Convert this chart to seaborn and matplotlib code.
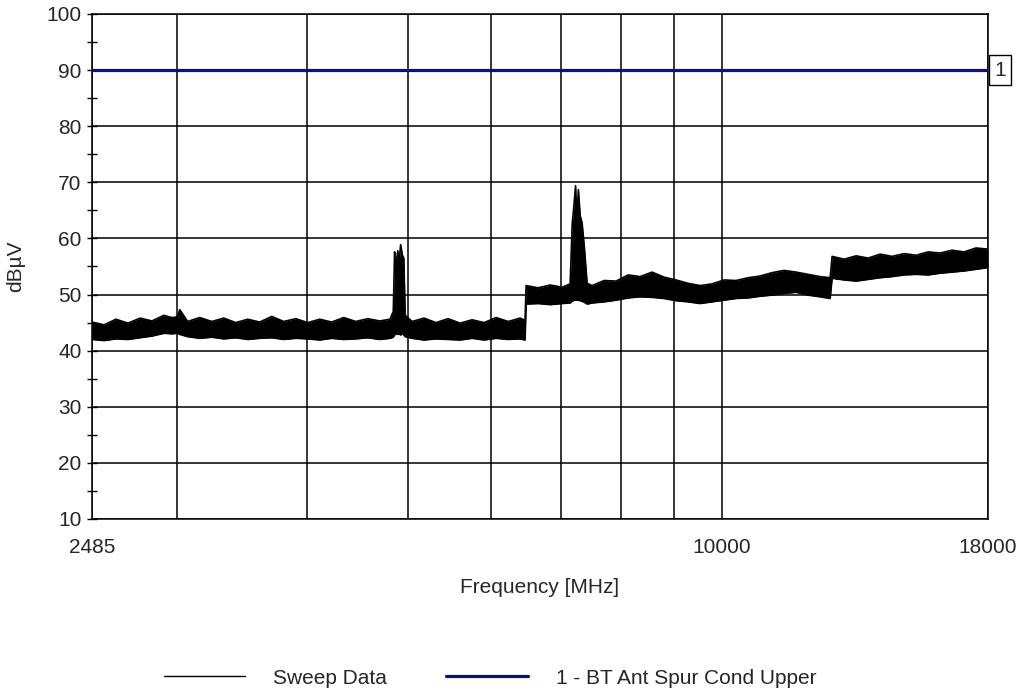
import matplotlib
matplotlib.use("Agg")
import matplotlib.pyplot as plt
from matplotlib.ticker import FixedLocator, NullFormatter, MultipleLocator
from matplotlib.lines import Line2D
import seaborn as sns
import pandas as pd

# ---- data ----
sweep_freq = [2485, 2552, 2620, 2691, 2763, 2837, 2913, 2965, 3000, 3017, 3070, 3153,
              3238, 3325, 3414, 3506, 3600, 3697, 3796, 3898, 4003, 4110, 4221, 4334,
              4451, 4570, 4693, 4801,
              4836, 4850, 4865, 4885, 4900, 4915, 4935, 4950, 4965,
              5041, 5176, 5316, 5459, 5605, 5756, 5911, 6070, 6233, 6400, 6471,
              6486, 6660, 6840, 7023, 7149,
              7181, 7210, 7235, 7255, 7280, 7310, 7340, 7380, 7422,
              7504, 7706, 7913, 8126, 8344, 8568, 8798, 9035, 9277, 9527, 9782,
              10045, 10315, 10592, 10877, 11169, 11469, 11777, 12093, 12418, 12699,
              12755, 13097, 13449, 13810, 14181, 14562, 14953, 15355, 15767, 16191,
              16626, 17072, 17531, 18000]
sweep_low = [42.0, 41.8, 42.1, 42.0, 42.3, 42.6, 43.1, 43.0, 43.1, 42.9, 42.5, 42.2,
             42.4, 42.1, 42.3, 42.0, 42.2, 42.3, 42.0, 42.2, 42.1, 41.9, 42.2, 42.0,
             42.1, 42.3, 42.0, 42.2,
             42.4, 42.8, 43.0, 42.9, 43.0, 42.8, 43.0, 42.8, 42.5,
             42.2, 41.9, 42.1, 42.0, 41.9, 42.2, 41.9, 42.2, 42.0, 42.1, 41.9,
             48.3, 48.4, 48.2, 48.4, 48.5,
             48.8, 49.0, 49.0, 49.0, 49.0, 48.9, 48.8, 48.6, 48.3,
             48.5, 48.7, 49.0, 49.4, 49.6, 49.5, 49.3, 48.9, 48.7, 48.4, 48.7,
             49.0, 49.3, 49.4, 49.7, 49.9, 50.2, 50.4, 49.9, 49.6, 49.3,
             52.9, 52.6, 52.4, 52.7, 53.0, 53.2, 53.5, 53.6, 53.5, 53.8,
             54.0, 54.2, 54.5, 54.8]
sweep_high = [45.1, 44.6, 45.6, 44.9, 45.8, 45.3, 46.3, 45.9, 46.0, 47.3, 45.2, 45.9,
              45.2, 45.8, 45.0, 45.6, 45.1, 46.1, 45.2, 45.7, 45.0, 45.6, 45.1, 45.9,
              45.2, 45.7, 45.3, 45.6,
              47.0, 57.6, 55.5, 57.8, 56.0, 58.9, 57.0, 56.5, 46.3,
              45.2, 45.8, 45.0, 45.7, 44.9, 45.5, 45.0, 45.9, 45.2, 45.8, 45.4,
              51.6, 51.2, 51.7, 51.3, 51.9,
              62.5, 66.0, 69.4, 63.5, 68.7, 64.0, 62.8, 58.0, 52.0,
              51.6, 52.5, 52.4, 53.5, 53.2, 54.0, 53.1, 52.6, 52.0, 51.6, 51.9,
              52.6, 52.5, 53.0, 53.3, 53.9, 54.3, 54.0, 53.6, 53.2, 53.0,
              56.8, 56.3, 56.9, 56.5, 57.2, 56.8, 57.3, 57.0, 57.6, 57.4,
              57.9, 57.6, 58.3, 58.1]

limit_freq = [2485, 18000]
limit_level = [90, 90]

x_tick_values = [2485, 10000, 18000]
x_tick_labels = ["2485", "10000", "18000"]
x_grid_minor = [3000, 4000, 5000, 6000, 7000, 8000, 9000]
y_ticks = list(range(10, 101, 10))

series_names = ["Sweep Data", "1 - BT Ant Spur Cond Upper"]

# ---- plot ----
sns.set_style("white")
plt.rcParams['font.family'] = ['Liberation Sans', 'DejaVu Sans']
FS = 15
LEG_FS = 15
LIMIT_COLOR = "#10107a"

fig = plt.figure(figsize=(10.2, 6.96), dpi=100)
ax = fig.add_axes([92/1020, 1-519/696, (988-92)/1020, (519-14)/696])
ax.set_xscale('log')

df = pd.DataFrame({"freq": sweep_freq, "low": sweep_low, "high": sweep_high})
ax.fill_between(df["freq"], df["low"], df["high"], color="black",
                linewidth=0, zorder=3)
sns.lineplot(data=df, x="freq", y="high", ax=ax, color="black", linewidth=1.2,
             estimator=None, sort=False, zorder=3)
sns.lineplot(data=df, x="freq", y="low", ax=ax, color="black", linewidth=1.2,
             estimator=None, sort=False, zorder=3)

lim_df = pd.DataFrame({"freq": limit_freq, "level": limit_level})
sns.lineplot(data=lim_df, x="freq", y="level", ax=ax, color=LIMIT_COLOR, linewidth=2.3,
             estimator=None, zorder=4)

ax.set_xlim(2485, 18000)
ax.set_ylim(10, 100)

ax.xaxis.set_major_locator(FixedLocator(x_tick_values))
ax.set_xticklabels(x_tick_labels)
ax.xaxis.set_minor_locator(FixedLocator(x_grid_minor))
ax.xaxis.set_minor_formatter(NullFormatter())
ax.tick_params(axis='x', which='both', length=0, pad=14, labelsize=FS)

ax.yaxis.set_major_locator(FixedLocator(y_ticks))
ax.yaxis.set_minor_locator(MultipleLocator(5))
ax.tick_params(axis='y', which='both', direction='inout', length=7, width=1,
               color='black', labelsize=FS, pad=4, left=True)

ax.grid(True, axis='x', which='both', color='black', linewidth=1.1, zorder=1)
ax.grid(True, axis='y', which='major', color='black', linewidth=1.1, zorder=1)
ax.set_axisbelow(True)

for s in ax.spines.values():
    s.set_color('black')
    s.set_linewidth(1.1)
    s.set_visible(True)

ax.set_xlabel("Frequency [MHz]", fontsize=FS, labelpad=15)
ax.set_ylabel("dBµV", fontsize=FS, labelpad=15)

ax.annotate("1", xy=(1, 90), xycoords=('axes fraction', 'data'),
            xytext=(4.3, 0), textcoords='offset points', ha='left', va='center',
            fontsize=FS,
            bbox=dict(boxstyle='square,pad=0.25', facecolor='white', edgecolor='black',
                      linewidth=1))

handles = [Line2D([], [], color='black', linewidth=1.0),
           Line2D([], [], color=LIMIT_COLOR, linewidth=2.3)]
fig.legend(handles, series_names, loc='center', bbox_to_anchor=(490/1020, 1-678/696),
           ncol=2, frameon=False, fontsize=LEG_FS, handlelength=3.9, handletextpad=1.35,
           columnspacing=2.85, borderpad=0, borderaxespad=0)

fig.savefig("out.png", dpi=100)
